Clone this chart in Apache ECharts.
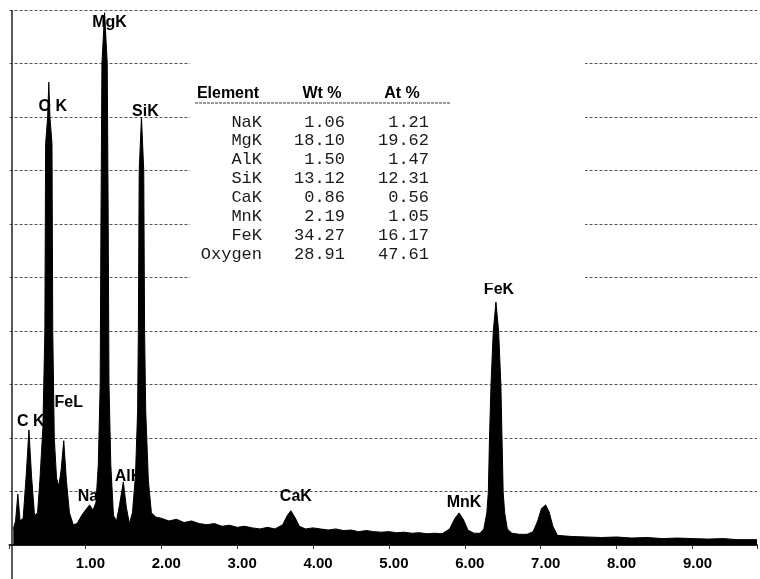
<!DOCTYPE html>
<html>
<head>
<meta charset="utf-8">
<script src="https://cdn.jsdelivr.net/npm/echarts@6/dist/echarts.min.js"></script>
<style>
  html, body { margin: 0; padding: 0; background: #fff; }
  #main { width: 760px; height: 579px; }
</style>
</head>
<body>
<div id="main"></div>
<script>
// spectrum (energy in keV, counts in gridline units)
var energy = [0.05, 0.08, 0.11, 0.14, 0.18, 0.22, 0.256, 0.29, 0.33, 0.37,
  0.40, 0.44, 0.466, 0.476, 0.503, 0.518, 0.533, 0.560, 0.570, 0.59,
  0.62, 0.65, 0.68, 0.715, 0.75, 0.79, 0.84, 0.89, 0.95, 1.00,
  1.056, 1.10, 1.14, 1.17, 1.195, 1.205, 1.218, 1.253, 1.288, 1.301,
  1.311, 1.335, 1.37, 1.41, 1.45, 1.50, 1.54, 1.58, 1.62, 1.66,
  1.688, 1.698, 1.709, 1.739, 1.769, 1.78, 1.795, 1.83, 1.87, 1.93,
  2.0, 2.1, 2.2, 2.3, 2.4, 2.5, 2.6, 2.7, 2.8, 2.9,
  3.0, 3.1, 3.2, 3.3, 3.4, 3.5, 3.60, 3.66, 3.707, 3.76,
  3.82, 3.9, 4.0, 4.1, 4.2, 4.3, 4.4, 4.5, 4.6, 4.7,
  4.8, 4.9, 5.0, 5.1, 5.2, 5.3, 5.4, 5.5, 5.6, 5.7,
  5.80, 5.87, 5.925, 5.98, 6.04, 6.12, 6.20, 6.25, 6.29, 6.31,
  6.325, 6.345, 6.375, 6.41, 6.445, 6.475, 6.49, 6.505, 6.525, 6.56,
  6.62, 6.72, 6.82, 6.9, 6.96, 7.01, 7.065, 7.11, 7.16, 7.22,
  7.4, 7.6, 7.8, 8.0, 8.2, 8.4, 8.6, 8.8, 9.0, 9.2,
  9.4, 9.6, 9.85];
var counts = [0.3, 0.45, 0.95, 0.45, 0.5, 1.3, 2.15, 1.3, 0.55, 0.6,
  1.2, 2.2, 4.0, 7.5, 8.0, 8.65, 8.0, 7.5, 4.0, 2.0,
  1.25, 1.1, 1.4, 1.95, 1.2, 0.6, 0.38, 0.4, 0.55, 0.65,
  0.75, 0.65, 0.8, 1.5, 3.0, 6.0, 9.0, 9.95, 9.0, 6.0,
  3.0, 1.5, 0.55, 0.45, 0.75, 1.18, 0.7, 0.4, 0.6, 1.3,
  2.5, 4.0, 7.0, 8.0, 7.0, 4.0, 2.5, 1.2, 0.6, 0.52,
  0.5, 0.45, 0.48, 0.42, 0.45, 0.4, 0.38, 0.4, 0.35, 0.37,
  0.33, 0.35, 0.32, 0.3, 0.33, 0.3, 0.38, 0.55, 0.64, 0.52,
  0.35, 0.3, 0.32, 0.3, 0.28, 0.3, 0.27, 0.28, 0.25, 0.27,
  0.25, 0.24, 0.25, 0.23, 0.24, 0.22, 0.23, 0.21, 0.22, 0.21,
  0.3, 0.5, 0.6, 0.48, 0.28, 0.22, 0.22, 0.3, 0.6, 1.0,
  2.0, 3.0, 4.0, 4.54, 4.0, 3.0, 2.0, 1.0, 0.6, 0.3,
  0.22, 0.2, 0.2, 0.25, 0.45, 0.68, 0.75, 0.62, 0.35, 0.18,
  0.16, 0.15, 0.14, 0.15, 0.13, 0.14, 0.12, 0.13, 0.12, 0.11,
  0.12, 0.1, 0.1];

// peak labels
var peakNames = ['C K', 'O K', 'FeL', 'NaK', 'MgK', 'AlK', 'SiK', 'CaK', 'MnK', 'FeK'];
var peakLabelE = [0.282, 0.571, 0.781, 1.109, 1.319, 1.568, 1.791, 3.773, 5.99, 6.45];
var peakLabelY = [2.3, 8.2, 2.67, 0.9, 9.76, 1.27, 8.11, 0.9, 0.79, 4.77];

// quantification table
var elements = ['NaK', 'MgK', 'AlK', 'SiK', 'CaK', 'MnK', 'FeK', 'Oxygen'];
var wtPct = [1.06, 18.10, 1.50, 13.12, 0.86, 2.19, 34.27, 28.91];
var atPct = [1.21, 19.62, 1.47, 12.31, 0.56, 1.05, 16.17, 47.61];

var myChart = echarts.init(document.getElementById('main'));

var spectrum = energy.map(function (e, i) { return [e, counts[i]]; });
var labelPts = peakNames.map(function (n, i) { return [peakLabelE[i], peakLabelY[i], n]; });

var monoFont = "17px 'Liberation Mono', 'DejaVu Sans Mono', monospace";
var boldFont = "bold 16px 'Liberation Sans', Arial, sans-serif";

var graphics = [
  // blank box behind the table (gridlines are broken there)
  { type: 'rect', z: 5, shape: { x: 190, y: 40, width: 395, height: 243 }, style: { fill: '#fff' } },
  // y axis line running past the x axis
  { type: 'line', z: 6, shape: { x1: 12, y1: 10, x2: 12, y2: 579 }, style: { stroke: '#222', lineWidth: 1.5 } },
  // header
  { type: 'text', z: 7, x: 228, y: 94, style: { text: 'Element', font: boldFont, fill: '#000', align: 'center', verticalAlign: 'middle' } },
  { type: 'text', z: 7, x: 322, y: 94, style: { text: 'Wt %', font: boldFont, fill: '#000', align: 'center', verticalAlign: 'middle' } },
  { type: 'text', z: 7, x: 402, y: 94, style: { text: 'At %', font: boldFont, fill: '#000', align: 'center', verticalAlign: 'middle' } },
  { type: 'line', z: 7, shape: { x1: 195, y1: 103, x2: 450, y2: 103 }, style: { stroke: '#333', lineWidth: 1, lineDash: [3, 1] } }
];
elements.forEach(function (el, i) {
  var y = 122 + i * 18.9;
  graphics.push({ type: 'text', z: 7, x: 262, y: y, style: { text: el, font: monoFont, fill: '#1a1a1a', align: 'right', verticalAlign: 'middle' } });
  graphics.push({ type: 'text', z: 7, x: 345, y: y, style: { text: wtPct[i].toFixed(2), font: monoFont, fill: '#1a1a1a', align: 'right', verticalAlign: 'middle' } });
  graphics.push({ type: 'text', z: 7, x: 429, y: y, style: { text: atPct[i].toFixed(2), font: monoFont, fill: '#1a1a1a', align: 'right', verticalAlign: 'middle' } });
});

var option = {
  animation: false,
  backgroundColor: '#fff',
  grid: { left: 9.5, right: 0, top: 10, bottom: 34 },
  xAxis: {
    type: 'value',
    min: 0,
    max: 9.85,
    interval: 1,
    axisLine: { show: true, lineStyle: { color: '#222', width: 2 } },
    axisTick: { show: true, length: 4, lineStyle: { color: '#333' } },
    splitLine: { show: false },
    axisLabel: {
      margin: 11,
      padding: [0, 0, 0, 10],
      color: '#000',
      fontWeight: 'bold',
      fontSize: 15,
      fontFamily: "'Liberation Sans', Arial, sans-serif",
      formatter: function (v) {
        if (v === 0 || Math.abs(v - Math.round(v)) > 1e-6) return '';
        return v.toFixed(2);
      }
    }
  },
  yAxis: {
    type: 'value',
    min: 0,
    max: 10,
    interval: 1,
    axisLine: { show: false },
    axisTick: { show: false },
    axisLabel: { show: false },
    splitLine: { show: true, lineStyle: { color: '#555', width: 1, type: [3, 2] } }
  },
  graphic: graphics,
  series: [
    {
      // peak names sit behind the peaks
      type: 'scatter',
      z: 1,
      symbolSize: 1,
      itemStyle: { color: 'rgba(0,0,0,0)', opacity: 1 },
      data: labelPts,
      label: {
        show: true,
        position: 'inside',
        formatter: function (p) { return p.data[2]; },
        color: '#000',
        opacity: 1,
        fontWeight: 'bold',
        fontSize: 16,
        fontFamily: "'Liberation Sans', Arial, sans-serif"
      }
    },
    {
      type: 'line',
      z: 2,
      data: spectrum,
      showSymbol: false,
      symbol: 'none',
      lineStyle: { color: '#000', width: 1 },
      areaStyle: { color: '#000', opacity: 1 }
    }
  ]
};
option && myChart.setOption(option);
</script>
</body>
</html>
